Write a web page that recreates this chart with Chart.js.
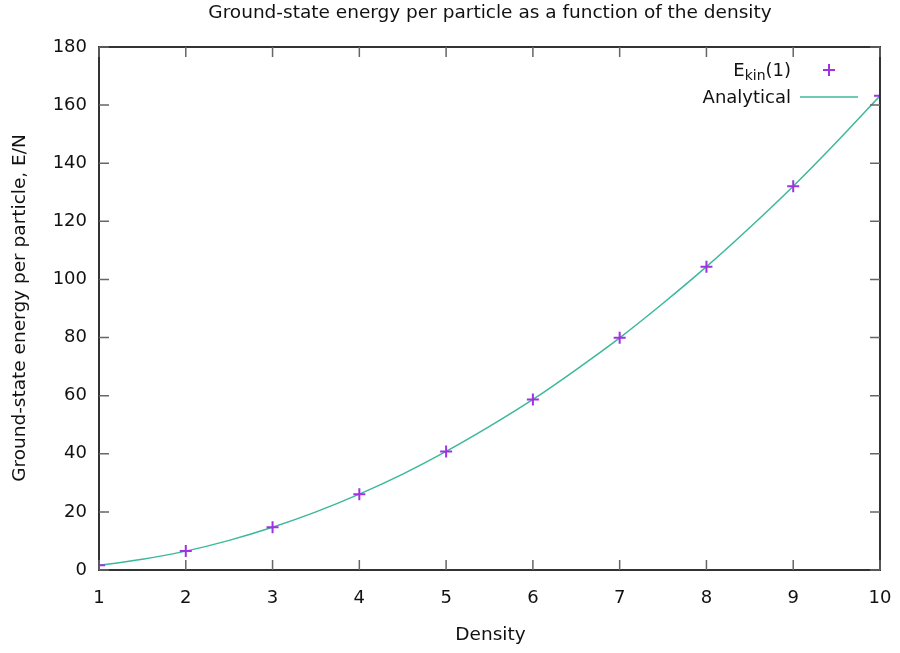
<!DOCTYPE html>
<html>
<head>
<meta charset="utf-8">
<script src="https://cdn.jsdelivr.net/npm/chart.js@4.4.1/dist/chart.umd.min.js"></script>
<style>
  html, body { margin: 0; padding: 0; background: #fff; }
  #wrap { width: 900px; height: 653px; }
</style>
</head>
<body>
<div id="wrap"><canvas id="chart" width="900" height="653"></canvas></div>
<script>
// data
var densities = [1, 2, 3, 4, 5, 6, 7, 8, 9, 10];
var ekinValues = [1.6, 6.5, 14.7, 26.1, 40.8, 58.7, 79.9, 104.4, 132.1, 163.2];
var curveX = [1, 1.5, 2, 2.5, 3, 3.5, 4, 4.5, 5, 5.5, 6, 6.5, 7, 7.5, 8, 8.5, 9, 9.5, 10];
var curveY = [1.6, 3.7, 6.5, 10.2, 14.7, 20.0, 26.1, 33.0, 40.8, 49.4, 58.7, 69.0, 79.9, 91.8, 104.4, 117.9, 132.1, 147.3, 163.2];
var xTicks = [1, 2, 3, 4, 5, 6, 7, 8, 9, 10];
var yTicks = [0, 20, 40, 60, 80, 100, 120, 140, 160, 180];

var FONT = "'DejaVu Sans', sans-serif";
var pointColor = 'rgb(160, 50, 225)';
var lineColor = 'rgb(60, 184, 154)';

// gnuplot-like frame: inward ticks on all four sides, titles and legend
var gnuFrame = {
    id: 'gnuFrame',
    afterDraw: function (chart) {
        var ctx = chart.ctx;
        var a = chart.chartArea;
        var xs = chart.scales.x, ys = chart.scales.y;
        ctx.save();
        ctx.strokeStyle = '#333';
        ctx.lineWidth = 2;
        ctx.strokeRect(a.left, a.top, a.right - a.left, a.bottom - a.top);
        ctx.strokeStyle = '#666';
        ctx.lineWidth = 1.5;
        xTicks.forEach(function (t) {
            var px = xs.getPixelForValue(t);
            ctx.beginPath();
            ctx.moveTo(px, a.bottom); ctx.lineTo(px, a.bottom - 10);
            ctx.moveTo(px, a.top); ctx.lineTo(px, a.top + 10);
            ctx.stroke();
        });
        yTicks.forEach(function (t) {
            var py = ys.getPixelForValue(t);
            ctx.beginPath();
            ctx.moveTo(a.left, py); ctx.lineTo(a.left + 10, py);
            ctx.moveTo(a.right, py); ctx.lineTo(a.right - 10, py);
            ctx.stroke();
        });

        ctx.fillStyle = '#111';
        ctx.textAlign = 'center';
        ctx.textBaseline = 'middle';
        ctx.font = '18.5px ' + FONT;
        ctx.fillText('Ground-state energy per particle as a function of the density', 490, 13);
        ctx.fillText('Density', (a.left + a.right) / 2 + 1, 635);
        ctx.save();
        ctx.translate(20, 308);
        ctx.rotate(-Math.PI / 2);
        ctx.fillText('Ground-state energy per particle, E/N', 0, 0);
        ctx.restore();

        // legend
        ctx.textAlign = 'right';
        var r = 791;
        ctx.font = '18px ' + FONT;
        var w1 = ctx.measureText('(1)').width;
        ctx.fillText('(1)', r, 71);
        ctx.font = '14px ' + FONT;
        var subW = ctx.measureText('kin').width;
        ctx.fillText('kin', r - w1, 76);
        ctx.font = '18px ' + FONT;
        ctx.fillText('E', r - w1 - subW, 71);
        ctx.fillText('Analytical', r, 98);

        ctx.strokeStyle = pointColor;
        ctx.lineWidth = 2;
        ctx.beginPath();
        ctx.moveTo(823, 70); ctx.lineTo(835, 70);
        ctx.moveTo(829, 64); ctx.lineTo(829, 76);
        ctx.stroke();
        ctx.strokeStyle = lineColor;
        ctx.lineWidth = 1.5;
        ctx.beginPath();
        ctx.moveTo(800, 97); ctx.lineTo(858, 97);
        ctx.stroke();
        ctx.restore();
    }
};

var ctx = document.getElementById('chart').getContext('2d');
new Chart(ctx, {
    type: 'scatter',
    data: {
        datasets: [{
            label: 'Ekin(1)',
            data: densities.map(function (d, i) { return { x: d, y: ekinValues[i] }; }),
            pointStyle: 'cross',
            pointRadius: 6,
            pointBorderWidth: 2,
            borderColor: pointColor,
            backgroundColor: pointColor,
            showLine: false,
            order: 1
        }, {
            label: 'Analytical',
            data: curveX.map(function (d, i) { return { x: d, y: curveY[i] }; }),
            showLine: true,
            pointRadius: 0,
            borderColor: lineColor,
            borderWidth: 1.5,
            cubicInterpolationMode: 'monotone',
            order: 2
        }]
    },
    options: {
        responsive: false,
        animation: false,
        layout: { padding: { top: 47, right: 20, left: 0, bottom: 0 } },
        plugins: {
            legend: { display: false },
            title: { display: false },
            tooltip: { enabled: false }
        },
        scales: {
            x: {
                type: 'linear',
                min: 1,
                max: 10,
                afterFit: function (s) { s.height = 83; s.paddingLeft = 0; s.paddingRight = 0; },
                afterBuildTicks: function (s) { s.ticks = xTicks.map(function (v) { return { value: v }; }); },
                grid: { display: false, drawTicks: false },
                border: { display: false },
                ticks: { color: '#111', padding: 18, maxRotation: 0, font: { family: FONT, size: 18 } }
            },
            y: {
                type: 'linear',
                min: 0,
                max: 180,
                afterFit: function (s) { s.width = 99; s.paddingTop = 0; s.paddingBottom = 0; },
                afterBuildTicks: function (s) { s.ticks = yTicks.map(function (v) { return { value: v }; }); },
                grid: { display: false, drawTicks: false },
                border: { display: false },
                ticks: { color: '#111', padding: 12, font: { family: FONT, size: 18 } }
            }
        }
    },
    plugins: [gnuFrame]
});
</script>
</body>
</html>
